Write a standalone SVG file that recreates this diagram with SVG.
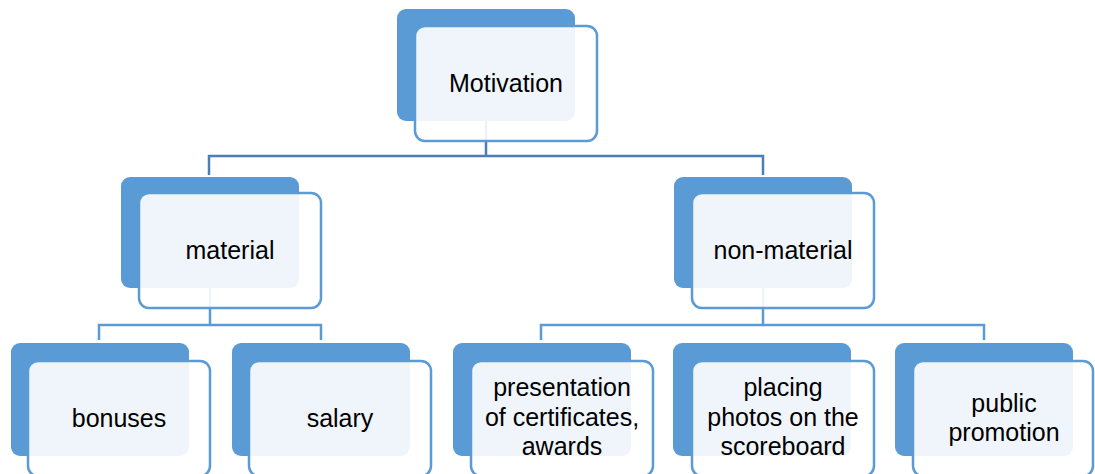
<svg xmlns="http://www.w3.org/2000/svg" width="1095" height="474" viewBox="0 0 1095 474">
<style>
.back{fill:#5b9bd5}
.front{fill:#ffffff;fill-opacity:0.9;stroke:#5b9bd5;stroke-width:2.5}
.c1{fill:none;stroke:#4a7ebb;stroke-width:2.5}
.c2{fill:none;stroke:#5b9bd5;stroke-width:2.5}
text{font-family:"Liberation Sans",Arial,sans-serif;font-size:25px;fill:#000;text-anchor:middle}
</style>
<rect width="1095" height="474" fill="#ffffff"/>
<g id="connectors">
<path class="c1" d="M486,121 V156 M209,175 V156 H763 V175"/>
<path class="c2" d="M210,288 V325 M99,340 V325 H321 V340"/>
<path class="c2" d="M763,288 V325 M541,340 V325 H984 V340"/>
</g>
<g id="motivation">
<rect class="back" x="397" y="9" width="178" height="112" rx="9"/>
<rect class="front" x="415" y="26" width="182" height="115" rx="10"/>
<text x="506" y="92">Motivation</text>
</g>
<g id="material">
<rect class="back" x="121" y="177" width="178" height="111" rx="9"/>
<rect class="front" x="139" y="193" width="182" height="115" rx="10"/>
<text x="230" y="259">material</text>
</g>
<g id="non-material">
<rect class="back" x="674" y="177" width="178" height="111" rx="9"/>
<rect class="front" x="692" y="193" width="182" height="115" rx="10"/>
<text x="783" y="259">non-material</text>
</g>
<g id="bonuses">
<rect class="back" x="11" y="343" width="178" height="113" rx="9"/>
<rect class="front" x="28" y="361" width="182" height="115" rx="10"/>
<text x="119" y="427">bonuses</text>
</g>
<g id="salary">
<rect class="back" x="232" y="343" width="178" height="113" rx="9"/>
<rect class="front" x="249" y="361" width="182" height="115" rx="10"/>
<text x="340" y="427">salary</text>
</g>
<g id="presentation">
<rect class="back" x="453" y="343" width="178" height="113" rx="9"/>
<rect class="front" x="471" y="361" width="182" height="115" rx="10"/>
<text x="562" y="396">presentation</text>
<text x="562" y="426">of certificates,</text>
<text x="562" y="455">awards</text>
</g>
<g id="placing">
<rect class="back" x="673" y="343" width="178" height="113" rx="9"/>
<rect class="front" x="692" y="361" width="182" height="115" rx="10"/>
<text x="783" y="396">placing</text>
<text x="783" y="426">photos on the</text>
<text x="783" y="455">scoreboard</text>
</g>
<g id="public">
<rect class="back" x="895" y="343" width="178" height="113" rx="9"/>
<rect class="front" x="913" y="361" width="180" height="115" rx="10"/>
<text x="1004" y="412">public</text>
<text x="1004" y="441">promotion</text>
</g>
</svg>
